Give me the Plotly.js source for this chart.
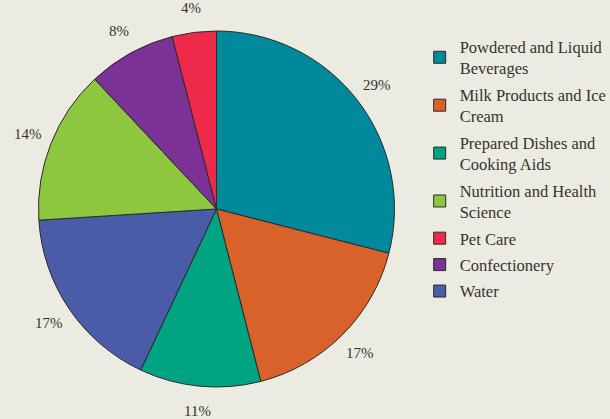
<!DOCTYPE html>
<html><head><meta charset="utf-8">
<script src="https://cdn.plot.ly/plotly-3.0.1.min.js"></script>
<style>html,body{margin:0;padding:0;background:#ECEBE1;}</style>
</head><body>
<div id="chart" style="width:610px;height:419px;"></div>
<script>
// Slices in clockwise order from 12 o'clock
const sliceLabels = ["Powdered and Liquid Beverages","Milk Products and Ice Cream","Prepared Dishes and Cooking Aids","Water","Nutrition and Health Science","Confectionery","Pet Care"];
const sliceValues = [29, 17, 11, 17, 14, 8, 4];
const sliceColors = ["#00899A","#D9622B","#00A482","#4A5BA8","#8DC63F","#7B3294","#EE2A4B"];
// Legend order as in the reference
const legendLabels = ["Powdered and Liquid<br>Beverages","Milk Products and Ice<br>Cream","Prepared Dishes and<br>Cooking Aids","Nutrition and Health<br>Science","Pet Care","Confectionery","Water"];
const legendColors = ["#00899A","#D9622B","#00A482","#8DC63F","#EE2A4B","#7B3294","#4A5BA8"];

const W = 610, H = 419;
const serif = "Liberation Serif, Times New Roman, serif";
const dom = {x: [0.0631, 0.6467], y: [0.0764, 0.926]};
const traces = [{
  type: "pie",
  labels: sliceLabels,
  values: sliceValues,
  sort: false,
  direction: "clockwise",
  rotation: 0,
  marker: {colors: sliceColors, line: {color: "#2a2a2a", width: 1}},
  textinfo: "none",
  hoverinfo: "label+value",
  showlegend: false,
  domain: dom
}];
legendLabels.forEach((lab, i) => {
  traces.push({
    type: "scatter", mode: "markers", x: [null], y: [null],
    name: lab, showlegend: true, legendgroup: "g" + i,
    marker: {symbol: "square", size: 12, color: legendColors[i], line: {color: "#2a2a2a", width: 1}}
  });
});

// Percentage labels placed outside the pie, along each slice's mid-angle
const cx = (dom.x[0] + dom.x[1]) / 2 * W;
const cy = (1 - (dom.y[0] + dom.y[1]) / 2) * H;
const rPie = Math.min((dom.x[1] - dom.x[0]) * W, (dom.y[1] - dom.y[0]) * H) / 2;
const rLab = rPie + 25;
const total = sliceValues.reduce((a, b) => a + b, 0);
let cum = 0;
const annotations = sliceValues.map(v => {
  const a = (cum + v / 2) / total * 2 * Math.PI;
  cum += v;
  const px = cx + rLab * Math.sin(a), py = cy - rLab * Math.cos(a);
  return {x: px / W, y: 1 - py / H, xref: "paper", yref: "paper",
    text: v + "%", showarrow: false, xanchor: "center", yanchor: "middle",
    font: {family: serif, size: 15, color: "#333"}};
});

const layout = {
  width: W, height: H,
  margin: {l: 0, r: 0, t: 0, b: 0, autoexpand: false},
  paper_bgcolor: "#ECEBE1",
  plot_bgcolor: "#ECEBE1",
  xaxis: {visible: false}, yaxis: {visible: false},
  showlegend: true,
  annotations: annotations,
  legend: {x: 0.688, y: 0.93, xanchor: "left", yanchor: "top",
    font: {family: serif, size: 16.5, color: "#333"},
    bgcolor: "rgba(0,0,0,0)", itemwidth: 30, tracegroupgap: 2}
};
Plotly.newPlot("chart", traces, layout, {displayModeBar: false, staticPlot: true});
</script>
</body></html>
